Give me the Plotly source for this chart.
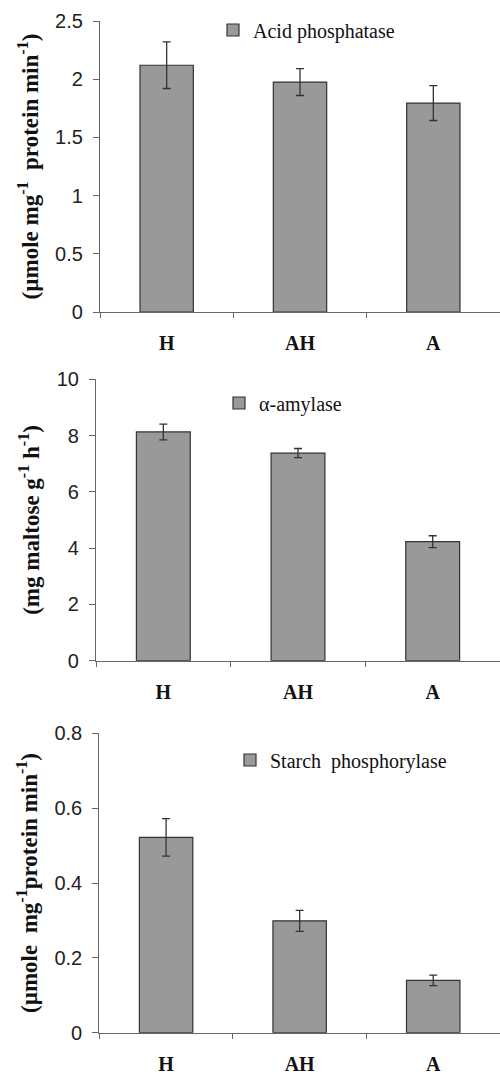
import plotly.graph_objects as go

categories = ["H", "AH", "A"]

acid_vals = [2.12, 1.975, 1.795]
acid_err = [0.2, 0.115, 0.15]

amyl_vals = [8.13, 7.38, 4.23]
amyl_err = [0.28, 0.16, 0.21]

starch_vals = [0.522, 0.299, 0.140]
starch_err = [0.05, 0.028, 0.014]

names = ["Acid phosphatase", "α-amylase", "Starch  phosphorylase"]
ytitles = [
    "(µmole mg<sup>-1</sup>  protein min<sup>-1</sup>)",
    "(mg maltose g<sup>-1</sup> h<sup>-1</sup>)",
    "(µmole  mg<sup>-1</sup>protein min<sup>-1</sup>)",
]
yranges = [[0, 2.5], [0, 10], [0, 0.8]]
ydticks = [0.5, 2, 0.2]

H = 1075.0
W = 500.0
# pixel geometry (top, bottom, left) of each plot area
geo = [(21, 312, 100), (379.3, 660.7, 96), (733.3, 1032.7, 99.3)]
legpos = [(213, 30), (219, 403), (230, 760)]

serif = "Liberation Serif, Times New Roman, serif"
sans = "Liberation Sans, Arial, sans-serif"

fig = go.Figure()
data = [(acid_vals, acid_err), (amyl_vals, amyl_err), (starch_vals, starch_err)]
for i, (vals, errs) in enumerate(data):
    sfx = "" if i == 0 else str(i + 1)
    fig.add_trace(go.Bar(
        x=categories, y=vals, name=names[i],
        xaxis="x" + sfx, yaxis="y" + sfx,
        width=0.4,
        marker=dict(color="#999999", line=dict(color="#333333", width=1.2)),
        error_y=dict(type="data", array=errs, visible=True,
                     color="#333333", thickness=1.3, width=4),
        legend="legend" + sfx,
        showlegend=True,
    ))

layout = dict(
    width=500, height=1075,
    margin=dict(l=0, r=0, t=0, b=0, autoexpand=False),
    paper_bgcolor="white", plot_bgcolor="white",
    bargap=0.6,
)
for i in range(3):
    sfx = "" if i == 0 else str(i + 1)
    top, bot, left = geo[i]
    layout["xaxis" + sfx] = dict(
        domain=[left / W, 1.0],
        anchor="y" + sfx,
        range=[-0.5, 2.5],
        type="category",
        tickson="boundaries",
        ticks="outside", ticklen=5, tickcolor="#666666",
        showline=True, linecolor="#666666", linewidth=1.2,
        showgrid=False, zeroline=False,
        automargin=False,
        tickfont=dict(family=serif, size=20, color="#111111", weight="bold"),
        ticklabelstandoff=13,
    )
    layout["yaxis" + sfx] = dict(
        domain=[1 - bot / H, 1 - top / H],
        anchor="x" + sfx,
        range=yranges[i],
        dtick=ydticks[i],
        ticks="outside", ticklen=6, tickcolor="#666666",
        showline=True, linecolor="#666666", linewidth=1.2,
        showgrid=False, zeroline=False,
        automargin=False,
        tickfont=dict(family=sans, size=20, color="#222222"),
        ticklabelstandoff=6,
        title=dict(text=ytitles[i], standoff=10,
                   font=dict(family=serif, size=23, color="#111111", weight="bold")),
    )
    lx, ly = legpos[i]
    layout["legend" + sfx] = dict(
        x=lx / W, y=1 - ly / H, xanchor="left", yanchor="middle",
        bgcolor="rgba(0,0,0,0)",
        font=dict(family=serif, size=20, color="#111111"),
    )

fig.update_layout(**layout)
fig.write_html("out.html",
               config={"displayModeBar": False},
               post_script="document.body.style.margin='0';document.body.style.overflow='hidden';")
